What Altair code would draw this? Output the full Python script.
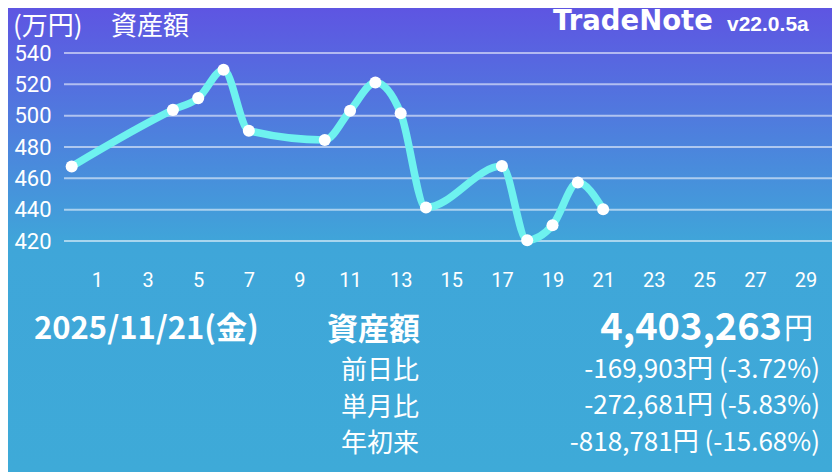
import altair as alt
import pandas as pd

# ---- data ----
days = [0, 4, 5, 6, 7, 10, 11, 12, 13, 14, 17, 18, 19, 20, 21]
assets = [467.6, 503.7, 511.2, 529.3, 490.4, 484.5, 503.2, 521.2, 501.6,
          441.4, 467.8, 420.5, 430.0, 457.3, 440.3]
x_tick_values = list(range(1, 30, 2))
y_tick_values = [420, 440, 460, 480, 500, 520, 540]

unit_label = "(万円)"
series_name = "資産額"
app_name = "TradeNote"
app_version = "v22.0.5a"
date_label = "2025/11/21(金)"
total_label = "資産額"
total_value = "4,403,263"
total_unit = "円"
row_labels = ["前日比", "単月比", "年初来"]
row_values = ["-169,903円 (-3.72%)", "-272,681円 (-5.83%)", "-818,781円 (-15.68%)"]

df = pd.DataFrame({"day": days, "asset": assets})
grid_df = pd.DataFrame({"asset": y_tick_values})

# ---- layout ----
W, H = 768, 188
OX, OY = 64, 53  # plot origin on the page
PAD = {"left": 56, "top": 45, "right": 0, "bottom": 231}


def px(x):
    return x - OX


def py(y):
    return y - OY


x_scale = alt.Scale(domain=[-0.304, 30.044], nice=False, zero=False)
y_scale = alt.Scale(domain=[420, 540], nice=False, zero=False)

x_axis = alt.Axis(values=x_tick_values, title=None, grid=False, domain=False,
                  ticks=False, tickSize=0, labelPadding=39, labelBaseline="middle",
                  labelFont="Roboto", labelFontSize=20, labelColor="white",
                  labelFlush=False, labelOverlap=False, zindex=1)
y_axis = alt.Axis(values=y_tick_values, title=None, grid=False, domain=False,
                  ticks=False, tickSize=0, labelPadding=13,
                  labelFont="Roboto", labelFontSize=22, labelColor="white", zindex=1)

one = pd.DataFrame({"a": [0]})

bg = alt.Chart(one).mark_rect(
    fill=alt.Gradient(
        gradient="linear",
        stops=[alt.GradientStop(color="#5e55e2", offset=0),
               alt.GradientStop(color="#3fa6d9", offset=0.51),
               alt.GradientStop(color="#3eaad8", offset=1)],
        x1=0, x2=0, y1=0, y2=1),
    stroke=None,
).encode(x=alt.value(-PAD["left"]), x2=alt.value(W + PAD["right"]),
         y=alt.value(-PAD["top"]), y2=alt.value(H + PAD["bottom"]))

grid = alt.Chart(grid_df).mark_rule(color="white", opacity=0.55, strokeWidth=2).encode(
    y=alt.Y("asset:Q", scale=y_scale, axis=y_axis),
    x=alt.value(0), x2=alt.value(W),
)

line = alt.Chart(df).mark_line(interpolate="monotone", color="#6ef2ef", strokeWidth=7.5,
                               strokeCap="round", strokeJoin="round").encode(
    x=alt.X("day:Q", scale=x_scale, axis=x_axis),
    y=alt.Y("asset:Q", scale=y_scale, axis=y_axis),
)

points = alt.Chart(df).mark_circle(size=145, color="white", opacity=1).encode(
    x=alt.X("day:Q", scale=x_scale, axis=x_axis),
    y=alt.Y("asset:Q", scale=y_scale, axis=y_axis),
)


def txt(text, x, y, size, align="left", baseline="alphabetic", weight="normal",
        font="Noto Sans CJK JP"):
    return alt.Chart(pd.DataFrame({"t": [text]})).mark_text(
        align=align, baseline=baseline, font=font, fontSize=size,
        fontWeight=weight, color="white").encode(
        x=alt.value(px(x)), y=alt.value(py(y)), text="t:N")


texts = [
    txt(unit_label, 13, 34.5, 26),
    txt(series_name, 111, 34.5, 26),
    txt(app_name, 553, 29.5, 27.5, weight="bold", font="DejaVu Sans"),
    txt(app_version, 727, 30.5, 21, weight="bold", font="Liberation Sans"),
    txt(date_label, 34, 338.5, 31, weight="bold"),
    txt(total_label, 420, 340, 31, align="right", weight="bold"),
    txt(total_value, 782, 340, 38, align="right", weight="bold"),
    txt(total_unit, 813, 339, 29, align="right"),
]
row_label_base = [379, 415.5, 452]
row_value_base = [377.5, 414, 450.5]
for i in range(len(row_labels)):
    texts.append(txt(row_labels[i], 419, row_label_base[i], 26, align="right"))
    texts.append(txt(row_values[i], 820, row_value_base[i], 26, align="right"))

chart = alt.layer(bg, grid, line, points, *texts).properties(
    width=W, height=H,
    padding=PAD,
    autosize=alt.AutoSizeParams(type="none"),
).configure_view(strokeWidth=0).configure(background="#3eaad8")

chart.save("out.html", embed_options={"renderer": "svg", "actions": False})
